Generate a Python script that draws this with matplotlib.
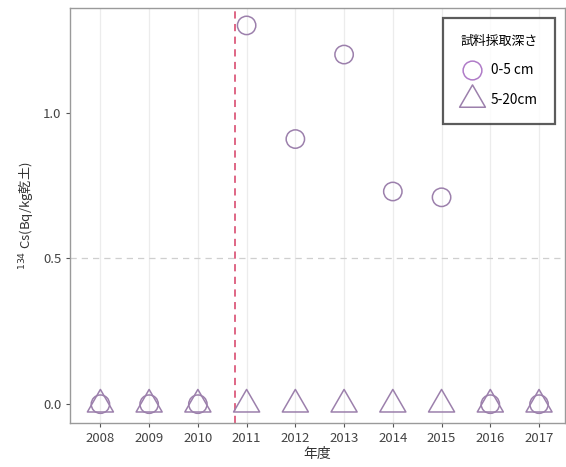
import matplotlib
matplotlib.use("Agg")
import matplotlib.pyplot as plt
from matplotlib.lines import Line2D
from matplotlib.path import Path

plt.rcParams['font.family'] = ['Noto Sans CJK JP', 'DejaVu Sans']

years = [2008, 2009, 2010, 2011, 2012, 2013, 2014, 2015, 2016, 2017]
cs_0_5 = [0.0, 0.0, 0.0, 1.30, 0.91, 1.20, 0.73, 0.71, 0.0, 0.0]
cs_5_20 = [0.0, 0.0, 0.0, 0.0, 0.0, 0.0, 0.0, 0.0, 0.0, 0.0]
event_year = 2010.77
legend_title = "試料採取深さ"
labels = ["0-5 cm", "5-20cm"]

mark_color = "#9c80ac"

# triangle anchored near its centroid rather than its bounding-box centre
tri = Path([(0, 1.13), (-1, -0.6), (1, -0.6), (0, 1.13)],
           [Path.MOVETO, Path.LINETO, Path.LINETO, Path.CLOSEPOLY])

fig = plt.figure(figsize=(5.66, 4.67), dpi=100)
ax = fig.add_axes([0.124, 0.094, 0.874, 0.889])

ax.set_xlim(2007.38, 2017.53)
ax.set_ylim(-0.065, 1.36)

ax.set_xticks(years)
ax.set_xticklabels([str(y) for y in years])
ax.set_yticks([0.0, 0.5, 1.0])
ax.set_yticklabels(["0.0", "0.5", "1.0"])

for y in years:
    ax.axvline(y, color="#ececec", lw=0.9, zorder=0)
ax.axhline(0.5, color="#cfcfcf", lw=0.9, ls=(0, (5, 4)), zorder=0)
ax.axvline(event_year, color="#dc5a7c", lw=1.3, ls=(0, (4, 3)), zorder=1)

ax.scatter(years, cs_5_20, marker=tri, s=450, facecolors="none",
           edgecolors=mark_color, linewidths=1.1, zorder=3)
ax.scatter(years, cs_0_5, marker="o", s=175, facecolors="none",
           edgecolors=mark_color, linewidths=1.1, zorder=3)

for side in ["left", "top", "bottom", "right"]:
    ax.spines[side].set_color("#9a9a9a")
    ax.spines[side].set_linewidth(1.0)
ax.tick_params(axis="both", colors="#555555", labelcolor="#444444",
               labelsize=9.5, length=3, width=0.8)

ax.set_xlabel("年度", fontsize=10, color="#333333", labelpad=1)
ax.set_ylabel(r"$^{134}$ Cs(Bq/kg乾土)", fontsize=9.5, color="#333333", labelpad=4)

handles = [
    Line2D([], [], marker="o", ls="none", markersize=13.5, markerfacecolor="none",
           markeredgecolor="#b07cc8", markeredgewidth=1.1),
    Line2D([], [], marker=tri, ls="none", markersize=21, markerfacecolor="none",
           markeredgecolor="#9c80ac", markeredgewidth=1.1),
]
leg = ax.legend(handles, labels, title=legend_title, loc="upper right",
                bbox_to_anchor=(0.985, 0.983), fontsize=9.8, title_fontsize=9.3,
                frameon=True, fancybox=False, borderpad=1.25, labelspacing=1.15,
                handletextpad=0.55, handlelength=1.7, borderaxespad=0.2)
leg.get_frame().set_edgecolor("#333333")
leg.get_frame().set_linewidth(1.6)
leg._legend_box.align = "left"

fig.savefig("out.png", dpi=100)
